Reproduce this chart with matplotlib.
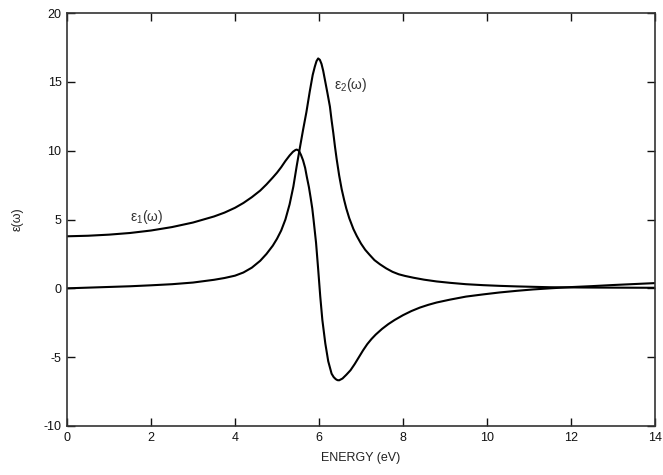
import matplotlib
matplotlib.use("Agg")
import matplotlib.pyplot as plt

# Energy (eV) and real part eps1
e1_energy = [0.0, 0.5, 1.0, 1.5, 2.0, 2.5, 3.0, 3.5, 3.75, 4.0, 4.2, 4.4, 4.6, 4.75, 4.9,
             5.0, 5.1, 5.2, 5.3, 5.38, 5.44, 5.47, 5.52, 5.57, 5.62, 5.67, 5.71, 5.76,
             5.8, 5.84, 5.87, 5.93, 5.98, 6.03, 6.08, 6.15, 6.22, 6.3, 6.35, 6.4, 6.44,
             6.48, 6.56, 6.65, 6.75, 6.85, 6.95, 7.05, 7.15, 7.25, 7.35, 7.5, 7.65, 7.8,
             8.0, 8.2, 8.4, 8.6, 8.8, 9.12, 9.5, 9.91, 10.3, 10.71, 11.1, 11.5, 12.0,
             12.5, 13.0, 13.5, 14.0]
e1_values = [3.78, 3.82, 3.90, 4.02, 4.20, 4.45, 4.78, 5.22, 5.50, 5.85, 6.20, 6.62, 7.10, 7.55, 8.05,
             8.40, 8.80, 9.25, 9.65, 9.92, 10.05, 10.08, 10.00, 9.70, 9.30, 8.75, 8.10, 7.35,
             6.60, 5.80, 5.00, 3.30, 1.40, -0.60, -2.30, -4.00, -5.30, -6.20, -6.45, -6.60, -6.67,
             -6.68, -6.55, -6.28, -5.95, -5.50, -5.00, -4.50, -4.05, -3.68, -3.36, -2.95, -2.60, -2.30,
             -1.95, -1.65, -1.40, -1.20, -1.03, -0.82, -0.60, -0.44, -0.30, -0.18, -0.08, 0.00, 0.09,
             0.16, 0.24, 0.31, 0.38]

# Energy (eV) and imaginary part eps2
e2_energy = [0.0, 0.5, 1.0, 1.5, 2.0, 2.5, 3.0, 3.5, 3.75, 4.0, 4.2, 4.4, 4.6, 4.75, 4.9,
             5.0, 5.1, 5.2, 5.3, 5.39, 5.47, 5.55, 5.62, 5.7, 5.78, 5.85, 5.9, 5.94,
             5.98, 6.02, 6.06, 6.1, 6.15, 6.2, 6.26, 6.3, 6.34, 6.38, 6.42, 6.48, 6.54,
             6.6, 6.65, 6.72, 6.82, 6.9, 7.0, 7.1, 7.2, 7.32, 7.45, 7.6, 7.75, 7.9,
             8.05, 8.25, 8.5, 8.8, 9.12, 9.5, 9.91, 10.3, 10.7, 11.1, 11.5, 12.3, 13.0, 14.0]
e2_values = [0.00, 0.05, 0.10, 0.15, 0.22, 0.30, 0.42, 0.62, 0.75, 0.92, 1.15, 1.50, 2.00, 2.50, 3.10,
             3.60, 4.20, 5.00, 6.10, 7.40, 8.90, 10.30, 11.50, 12.80, 14.30, 15.50, 16.10, 16.50,
             16.70, 16.60, 16.30, 15.80, 15.00, 14.20, 13.20, 12.20, 11.30, 10.30, 9.40, 8.20, 7.20,
             6.40, 5.80, 5.10, 4.30, 3.80, 3.25, 2.80, 2.45, 2.05, 1.75, 1.45, 1.20, 1.02,
             0.90, 0.77, 0.63, 0.50, 0.40, 0.30, 0.23, 0.18, 0.14, 0.11, 0.08, 0.06, 0.05, 0.04]

x_ticks = [0, 2, 4, 6, 8, 10, 12, 14]
y_ticks = [-10, -5, 0, 5, 10, 15, 20]

plt.rcParams['font.family'] = ['Liberation Sans', 'DejaVu Sans']
plt.rcParams['axes.unicode_minus'] = False
plt.rcParams['mathtext.fontset'] = 'custom'
plt.rcParams['mathtext.rm'] = 'Liberation Sans'

fig = plt.figure(figsize=(6.63, 4.75), dpi=100)
ax = fig.add_axes([67/663, 1 - 426/475, (655-67)/663, (426-13)/475])

ax.plot(e1_energy, e1_values, color='black', lw=1.5, solid_joinstyle='round')
ax.plot(e2_energy, e2_values, color='black', lw=1.5, solid_joinstyle='round')

ax.set_xlim(0, 14)
ax.set_ylim(-10, 20)
ax.set_xticks(x_ticks)
ax.set_yticks(y_ticks)
ax.tick_params(direction='in', length=6, width=1, top=True, right=True,
               labelsize=9, colors='#111111', pad=4)
for s in ax.spines.values():
    s.set_linewidth(1.2)
    s.set_color('#333333')

ax.text(1.5, 4.55, 'ε$_\\mathrm{1}$(ω)', fontsize=10, color='#333333',
        ha='left', va='bottom')
ax.text(6.35, 14.8, 'ε$_\\mathrm{2}$(ω)', fontsize=10, color='#333333',
        ha='left', va='center')

ax.set_xlabel('ENERGY (eV)', fontsize=9, color='#222222', labelpad=6)
ax.set_ylabel('ε(ω)', fontsize=9, color='#222222', labelpad=14)

fig.savefig('out.png', dpi=100)
